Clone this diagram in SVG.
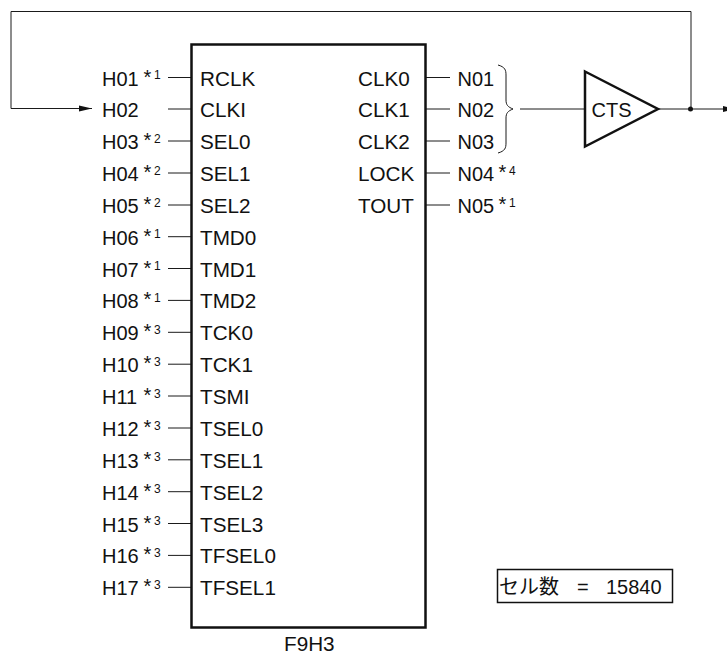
<svg xmlns="http://www.w3.org/2000/svg" width="727" height="655" viewBox="0 0 727 655">
<style>
text{font-family:"Liberation Sans",Arial,"Noto Sans CJK JP",sans-serif;font-size:20px;fill:#111}
.p{font-size:20.700px}
.s{font-size:12px}
.w{fill:none;stroke:#1a1a1a;stroke-width:1}
.b{fill:#fff;stroke:#111;stroke-width:2.500}
</style>
<defs>
<marker id="arr" markerUnits="userSpaceOnUse" markerWidth="14" markerHeight="10" refX="13" refY="5" orient="auto"><path d="M0 2L13 5L0 8Z" fill="#111"/></marker>
</defs>
<g id="connectors">
<path class="w" d="M691 109V11.500H11V108.500H92" marker-end="url(#arr)"/>
<path class="w" d="M168 77.500H191M168 109H191M168 141H191M168 173H191M168 205H191M168 236.700H191M168 268.500H191M168 300.400H191M168 332.300H191M168 364.200H191M168 396H191M168 428H191M168 459.800H191M168 491.700H191M168 523.500H191M168 555.400H191M168 587.300H191"/>
<path class="w" d="M426 77.500H450M426 109H450M426 141H450M426 173H450M426 205H450"/>
<path class="w" d="M520 109H585"/>
<path class="w" d="M658 109H736" marker-end="url(#arr)"/>
<circle cx="690.500" cy="109" r="2.500" fill="#111"/>
<path class="w" d="M498 65C505 67 506 70 506 75V100C506 105 508 107 513 109C508 111 506 113 506 118V143C506 148 505 151 498 153"/>
</g>
<g id="chip">
<rect class="b" x="191.500" y="44.500" width="234" height="583"/>
<text class="p" x="200" y="85.500">RCLK</text><text class="p" x="200" y="117">CLKI</text><text class="p" x="200" y="149">SEL0</text><text class="p" x="200" y="181">SEL1</text><text class="p" x="200" y="213">SEL2</text><text class="p" x="200" y="244.700">TMD0</text><text class="p" x="200" y="276.500">TMD1</text><text class="p" x="200" y="308.400">TMD2</text><text class="p" x="200" y="340.300">TCK0</text><text class="p" x="200" y="372.200">TCK1</text><text class="p" x="200" y="404">TSMI</text><text class="p" x="200" y="436">TSEL0</text><text class="p" x="200" y="467.800">TSEL1</text><text class="p" x="200" y="499.700">TSEL2</text><text class="p" x="200" y="531.500">TSEL3</text><text class="p" x="200" y="563.400">TFSEL0</text><text class="p" x="200" y="595.300">TFSEL1</text>
<text class="p" x="358" y="85.500">CLK0</text><text class="p" x="358" y="117">CLK1</text><text class="p" x="358" y="149">CLK2</text><text class="p" x="358" y="181">LOCK</text><text class="p" x="358" y="213">TOUT</text>
<text class="p" x="284" y="650.700">F9H3</text>
</g>
<g id="left-labels">
<text x="102" y="85.500">H01</text><text x="143.500" y="83.500">*</text><text class="s" x="154" y="79">1</text>
<text x="102" y="117">H02</text>
<text x="102" y="149">H03</text><text x="143.500" y="147">*</text><text class="s" x="154" y="142.500">2</text>
<text x="102" y="181">H04</text><text x="143.500" y="179">*</text><text class="s" x="154" y="174.500">2</text>
<text x="102" y="213">H05</text><text x="143.500" y="211">*</text><text class="s" x="154" y="206.500">2</text>
<text x="102" y="244.700">H06</text><text x="143.500" y="242.700">*</text><text class="s" x="154" y="238.200">1</text>
<text x="102" y="276.500">H07</text><text x="143.500" y="274.500">*</text><text class="s" x="154" y="270">1</text>
<text x="102" y="308.400">H08</text><text x="143.500" y="306.400">*</text><text class="s" x="154" y="301.900">1</text>
<text x="102" y="340.300">H09</text><text x="143.500" y="338.300">*</text><text class="s" x="154" y="333.800">3</text>
<text x="102" y="372.200">H10</text><text x="143.500" y="370.200">*</text><text class="s" x="154" y="365.700">3</text>
<text x="102" y="404">H11</text><text x="143.500" y="402">*</text><text class="s" x="154" y="397.500">3</text>
<text x="102" y="436">H12</text><text x="143.500" y="434">*</text><text class="s" x="154" y="429.500">3</text>
<text x="102" y="467.800">H13</text><text x="143.500" y="465.800">*</text><text class="s" x="154" y="461.300">3</text>
<text x="102" y="499.700">H14</text><text x="143.500" y="497.700">*</text><text class="s" x="154" y="493.200">3</text>
<text x="102" y="531.500">H15</text><text x="143.500" y="529.500">*</text><text class="s" x="154" y="525">3</text>
<text x="102" y="563.400">H16</text><text x="143.500" y="561.400">*</text><text class="s" x="154" y="556.900">3</text>
<text x="102" y="595.300">H17</text><text x="143.500" y="593.300">*</text><text class="s" x="154" y="588.800">3</text>
</g>
<g id="right-labels">
<text x="457.500" y="85.500">N01</text><text x="457.500" y="117">N02</text><text x="457.500" y="149">N03</text>
<text x="457.500" y="181">N04</text><text x="498.500" y="179">*</text><text class="s" x="509" y="174.500">4</text>
<text x="457.500" y="213">N05</text><text x="498.500" y="211">*</text><text class="s" x="509" y="206.500">1</text>
</g>
<g id="cts">
<path d="M585 71.500L658 109L585 146.500Z" fill="#fff" stroke="#111" stroke-width="2.500"/>
<text x="591.500" y="117">CTS</text>
</g>
<g id="cell-count">
<rect x="497.500" y="569.500" width="175" height="33" fill="#fff" stroke="#111" stroke-width="1.500"/>
<text x="499" y="594">セル数</text><text x="577" y="594">=</text><text x="606" y="594">15840</text>
</g>
</svg>
